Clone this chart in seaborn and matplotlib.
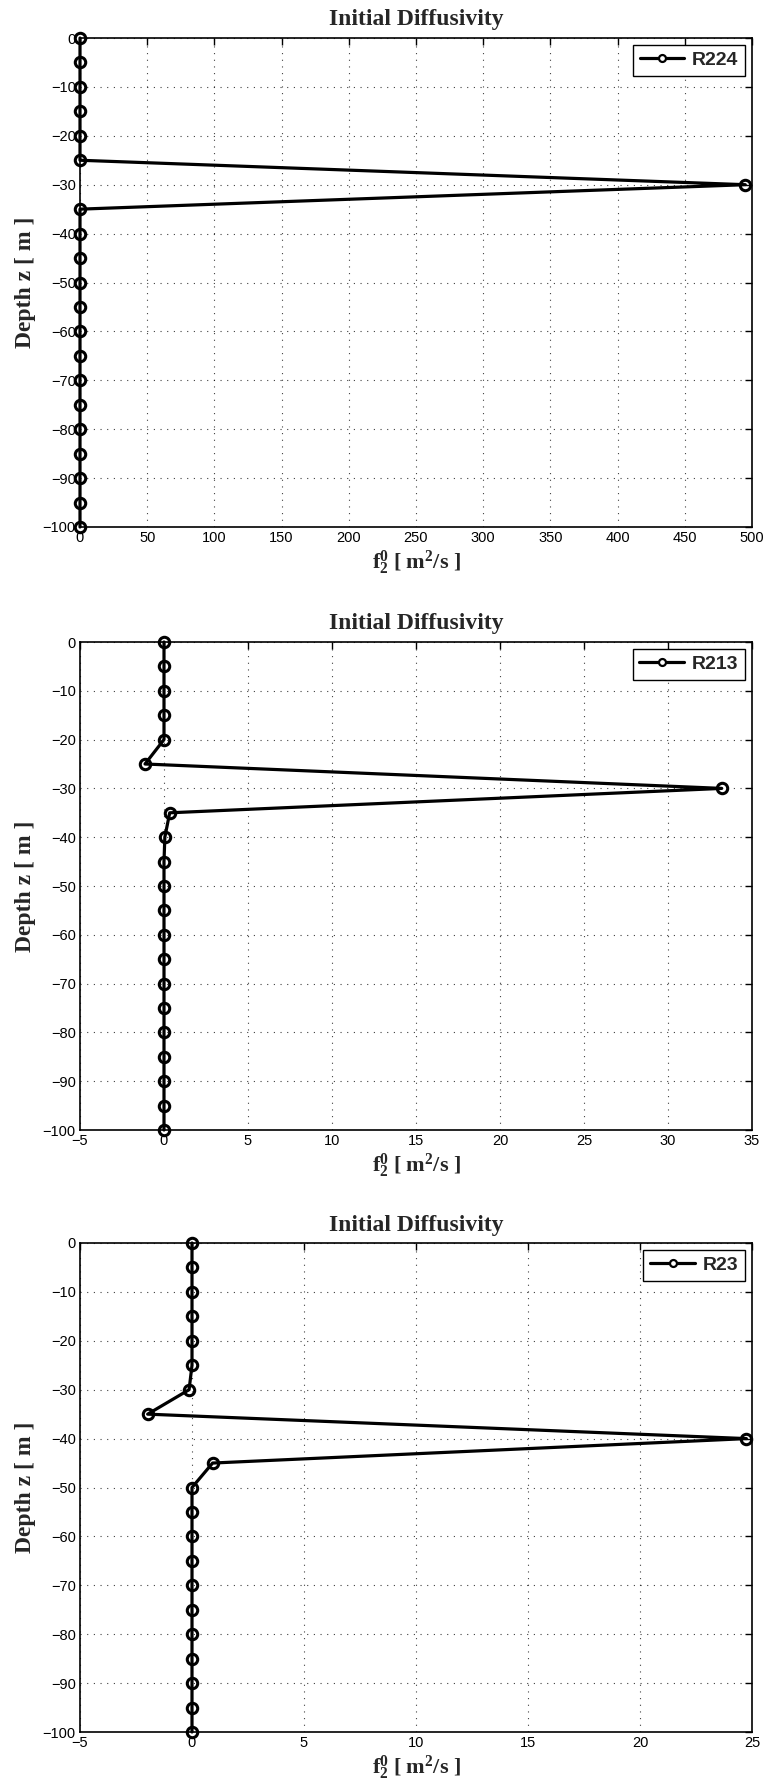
import numpy as np
import pandas as pd
import matplotlib
matplotlib.use("Agg")
import matplotlib.pyplot as plt
from matplotlib.lines import Line2D
import seaborn as sns

# ---------------- data ----------------
depth = [0, -5, -10, -15, -20, -25, -30, -35, -40, -45, -50,
         -55, -60, -65, -70, -75, -80, -85, -90, -95, -100]

f_R224 = [0, 0, 0, 0, 0, 0, 495, 0, 0, 0, 0,
          0, 0, 0, 0, 0, 0, 0, 0, 0, 0]
f_R213 = [0, 0, 0, 0, 0, -1.13, 33.2, 0.34, 0.05, 0, 0,
          0, 0, 0, 0, 0, 0, 0, 0, 0, 0]
f_R23 = [0, 0, 0, 0, 0, 0, -0.13, -1.98, 24.75, 0.92, 0,
         0, 0, 0, 0, 0, 0, 0, 0, 0, 0]

series_names = ["R224", "R213", "R23"]
series_values = [f_R224, f_R213, f_R23]
x_limits = [(0, 500), (-5, 35), (-5, 25)]
x_ticks = [list(range(0, 501, 50)), list(range(-5, 36, 5)), list(range(-5, 26, 5))]
y_ticks = list(range(-100, 1, 10))
title_text = "Initial Diffusivity"
xlabel_text = r"$\mathbf{f_2^0\ [\ m^2/s\ ]}$"
ylabel_text = "Depth z [ m ]"

# ---------------- style ----------------
sns.set_theme(style="white")
plt.rcParams["font.family"] = ["Liberation Sans", "DejaVu Sans"]
plt.rcParams["mathtext.fontset"] = "custom"
plt.rcParams["mathtext.rm"] = "Liberation Serif"
plt.rcParams["mathtext.bf"] = "Liberation Serif:bold"
plt.rcParams["mathtext.it"] = "Liberation Serif:italic"
plt.rcParams["axes.unicode_minus"] = True

fig = plt.figure(figsize=(7.68, 17.91), dpi=100)
W, H = 768.0, 1791.0
panels_px = [(38, 527), (642, 1130), (1243, 1732)]
left_px, right_px = 80, 752

for i, (top, bot) in enumerate(panels_px):
    ax = fig.add_axes([left_px / W, 1 - bot / H, (right_px - left_px) / W, (bot - top) / H])
    df = pd.DataFrame({"f": series_values[i], "z": depth})
    sns.lineplot(data=df, x="f", y="z", sort=False, estimator=None, ax=ax,
                 color="black", lw=2.3, marker="o", markersize=7.5,
                 markerfacecolor="none", markeredgecolor="black",
                 markeredgewidth=2.2, clip_on=False, zorder=5, legend=False)
    ax.set_xlim(*x_limits[i])
    ax.set_ylim(-100, 0)
    ax.set_xticks(x_ticks[i])
    ax.set_yticks(y_ticks)
    ax.set_xticklabels([str(v).replace("-", "\u2212") for v in x_ticks[i]])
    ax.set_yticklabels([str(v).replace("-", "\u2212") for v in y_ticks])
    ax.tick_params(direction="in", length=5, width=1, colors="black",
                   labelsize=10.5, top=True, right=True, pad=3)
    ax.grid(True, color="black", linestyle=(0, (1, 5)), linewidth=0.8, alpha=0.75)
    for sp in ax.spines.values():
        sp.set_color("black")
        sp.set_linewidth(1.2)
    ax.set_title(title_text, fontfamily="Liberation Serif", fontweight="bold",
                 fontsize=17, pad=9)
    ax.set_xlabel(xlabel_text, fontsize=16, labelpad=2)
    ax.set_ylabel(ylabel_text, fontfamily="Liberation Serif", fontweight="bold",
                  fontsize=17, labelpad=5)
    handle = Line2D([], [], color="black", lw=2.3, marker="o", markersize=5,
                    markerfacecolor="white", markeredgecolor="black",
                    markeredgewidth=1.6)
    leg = ax.legend([handle], [series_names[i]], loc="upper right", frameon=True,
                    fancybox=False, edgecolor="black", framealpha=1,
                    handlelength=2.3, borderaxespad=0.35, borderpad=0.35,
                    handletextpad=0.4, prop={"weight": "bold", "size": 14})
    leg.get_frame().set_linewidth(1.0)

fig.savefig("out.png", dpi=100)
